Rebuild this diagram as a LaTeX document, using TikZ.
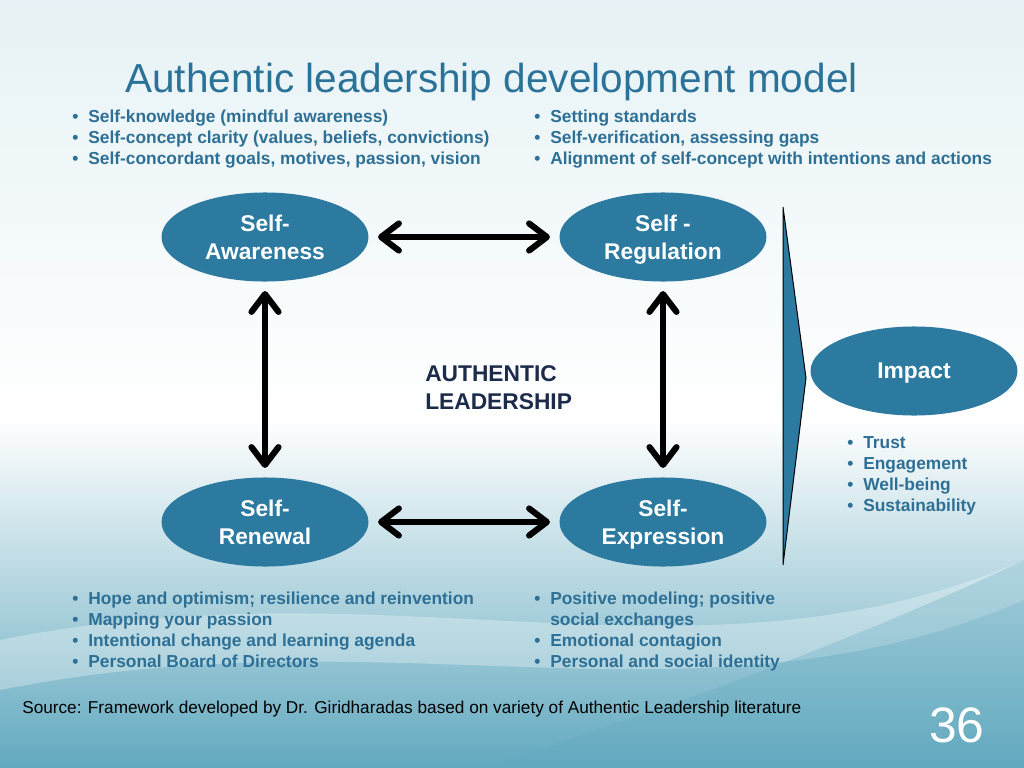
\documentclass[tikz,border=0pt]{standalone}
\usepackage{fontspec}
\setmainfont{Liberation Sans}
\usetikzlibrary{arrows.meta,shapes.geometric}

\definecolor{ellblue}{HTML}{2C7AA0}
\definecolor{listblue}{HTML}{2E7095}
\definecolor{titleblue}{HTML}{2B7299}
\definecolor{navy}{HTML}{1C2B4A}
\definecolor{bgtop}{HTML}{E6F2F5}
\definecolor{bgbot}{HTML}{62A9BF}

\newcommand{\bl}{\textbullet}

\begin{document}
\begin{tikzpicture}[x=0.703pt,y=-0.703pt,
    part/.style={ellipse, fill=ellblue, text=white, align=center,
      font=\bfseries\fontsize{16}{19.5}\selectfont, text depth=0pt,
      minimum width=145.5pt, minimum height=62.6pt, inner sep=0pt},
    link/.style={line width=4.3pt, line cap=round, line join=round,
      {Straight Barb[length=12.5pt,width=19pt,round]}-{Straight Barb[length=12.5pt,width=19pt,round]},
      shorten <=6.5pt, shorten >=6.5pt},
    items/.style={anchor=base west, inner sep=0pt, text=listblue,
      font=\bfseries\fontsize{12.2}{14.8}\selectfont}]
        \useasboundingbox (0,0) rectangle (1024,768);
        \shade[top color=bgtop, bottom color=white] (0,0) rectangle (1024,420);
        \shade[top color=white, bottom color=bgbot] (0,419) rectangle (1024,768);
        \fill[white, opacity=0.3] (0,640) .. controls (400,560) and (700,700) .. (1024,560)
          -- (1024,600) .. controls (700,740) and (400,610) .. (0,690) -- cycle;
        \fill[bgbot, opacity=0.3] (480,768) .. controls (700,700) and (900,620) .. (1024,560)
          -- (1024,768) -- cycle;

        \node[anchor=base west, inner sep=0pt, text=titleblue,
          font=\fontsize{28.5}{32}\selectfont] (title) at (125,92)
          {Authentic leadership development model};

        \node[items] (awarel) at (72,122) {\begin{tabular}[t]{@{}l@{\hspace{7pt}}l@{}}
          \bl & Self-knowledge (mindful awareness)\\
          \bl & Self-concept clarity (values, beliefs, convictions)\\
          \bl & Self-concordant goals, motives, passion, vision
        \end{tabular}};
        \node[items] (regull) at (534,122) {\begin{tabular}[t]{@{}l@{\hspace{7pt}}l@{}}
          \bl & Setting standards\\
          \bl & Self-verification, assessing gaps\\
          \bl & Alignment of self-concept with intentions and actions
        \end{tabular}};

        \node[part] (aware) at (265,237) {Self-\\Awareness};
        \node[part] (regul) at (663,237) {Self -\\Regulation};
        \node[part] (renew) at (265,522) {Self-\\Renewal};
        \node[part] (expr)  at (663,522) {Self-\\Expression};

        \draw[link] (aware) -- (regul);
        \draw[link] (renew) -- (expr);
        \draw[link] (aware) -- (renew);
        \draw[link] (regul) -- (expr);

        \node[anchor=north west, inner sep=0pt, text=navy, align=left,
          font=\bfseries\fontsize{16}{19.7}\selectfont] (core) at (425,365)
          {AUTHENTIC\\LEADERSHIP};

        \filldraw[fill=ellblue, draw=black, line width=0.7pt]
          (783,207) -- (806,378) -- (783,565) -- cycle;

        \node[part] (impact) at (914,371) {Impact};
        \node[items] (impactl) at (847,448) {\begin{tabular}[t]{@{}l@{\hspace{7pt}}l@{}}
          \bl & Trust\\
          \bl & Engagement\\
          \bl & Well-being\\
          \bl & Sustainability
        \end{tabular}};

        \node[items] (renewl) at (72,604) {\begin{tabular}[t]{@{}l@{\hspace{7pt}}l@{}}
          \bl & Hope and optimism; resilience and reinvention\\
          \bl & Mapping your passion\\
          \bl & Intentional change and learning agenda\\
          \bl & Personal Board of Directors
        \end{tabular}};
        \node[items] (exprl) at (534,604) {\begin{tabular}[t]{@{}l@{\hspace{7pt}}l@{}}
          \bl & Positive modeling; positive\\
              & social exchanges\\
          \bl & Emotional contagion\\
          \bl & Personal and social identity
        \end{tabular}};

        \node[anchor=base west, inner sep=0pt, font=\fontsize{12.1}{14}\selectfont] (src) at (22,713)
          {Source: Framework developed by Dr. Giridharadas based on variety of Authentic Leadership literature};
        \node[anchor=base, inner sep=0pt, text=white, font=\fontsize{35}{40}\selectfont] (num) at (957,742) {36};
      \end{tikzpicture}
\end{document}
